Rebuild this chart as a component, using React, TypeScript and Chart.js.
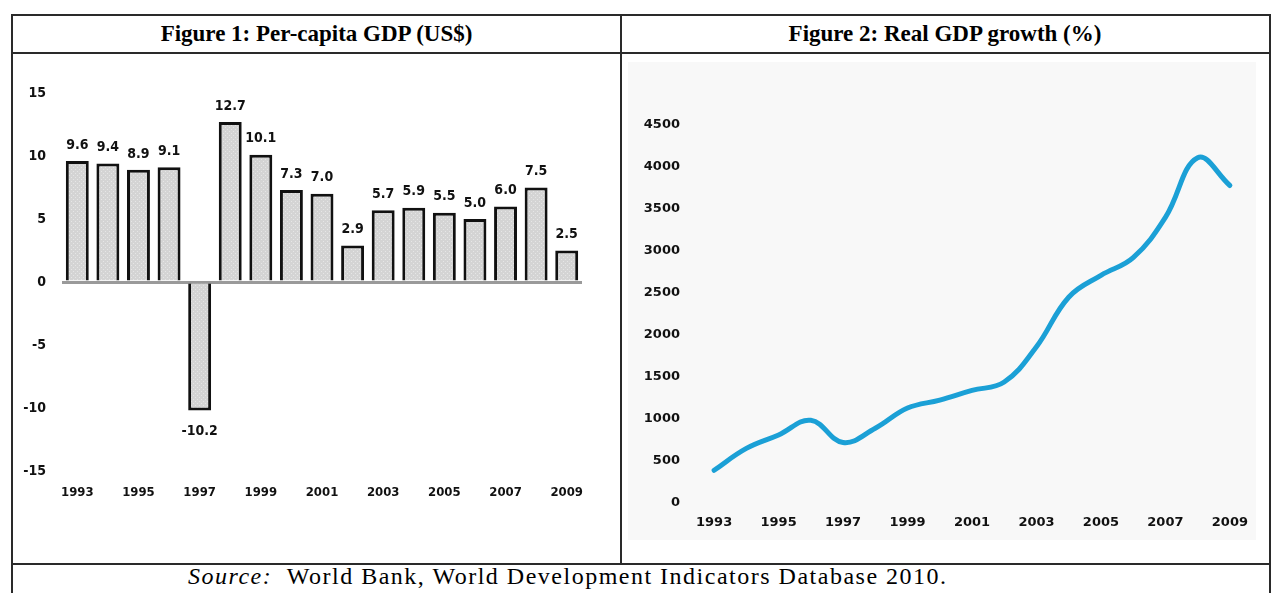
import React, { useEffect, useRef } from "react";
import { Chart, registerables } from "chart.js";

Chart.register(...registerables);

const years = ["1993","1994","1995","1996","1997","1998","1999","2000","2001","2002","2003","2004","2005","2006","2007","2008","2009"];
const perCapitaValues = [9.6, 9.4, 8.9, 9.1, -10.2, 12.7, 10.1, 7.3, 7.0, 2.9, 5.7, 5.9, 5.5, 5.0, 6.0, 7.5, 2.5];
const growthValues = [390, 650, 810, 985, 720, 890, 1130, 1225, 1340, 1440, 1860, 2450, 2710, 2920, 3400, 4110, 3780];
const leftYTicks = [-15, -10, -5, 0, 5, 10, 15];
const rightYTicks = [0, 500, 1000, 1500, 2000, 2500, 3000, 3500, 4000, 4500];

const title1 = "Figure 1: Per-capita GDP (US$)";
const title2 = "Figure 2: Real GDP growth (%)";

const tickFont = { family: "'DejaVu Sans Condensed', 'DejaVu Sans', sans-serif", weight: "bold" as const, size: 13 };

function makePattern(): CanvasPattern | string {
  const c = document.createElement("canvas");
  c.width = 4;
  c.height = 4;
  const g = c.getContext("2d");
  if (!g) return "#d8d8d8";
  g.fillStyle = "#d4d4d4";
  g.fillRect(0, 0, 4, 4);
  g.fillStyle = "#e6e6e6";
  g.fillRect(0, 0, 1, 1);
  g.fillRect(2, 2, 1, 1);
  const p = g.createPattern(c, "repeat");
  return p || "#d8d8d8";
}

const barLabelPlugin = {
  id: "barLabels",
  afterDatasetsDraw(chart: any) {
    const ctx = chart.ctx;
    const meta = chart.getDatasetMeta(0);
    const data = chart.data.datasets[0].data as number[];
    ctx.save();
    ctx.font = "bold 14px 'DejaVu Sans Condensed', 'DejaVu Sans', sans-serif";
    ctx.fillStyle = "#111";
    ctx.textAlign = "center";
    ctx.textBaseline = "middle";
    meta.data.forEach((el: any, i: number) => {
      const v = data[i];
      const y = v >= 0 ? el.y - 16 : el.y + 21;
      ctx.fillText(v.toFixed(1), el.x, y);
    });
    ctx.restore();
  },
};

function BarChart() {
  const ref = useRef<HTMLCanvasElement>(null);
  useEffect(() => {
    if (!ref.current) return;
    const chart = new Chart(ref.current, {
      type: "bar",
      data: {
        labels: years,
        datasets: [
          {
            data: perCapitaValues,
            backgroundColor: makePattern() as any,
            borderColor: "#111",
            borderWidth: 3,
            barPercentage: 0.75,
            categoryPercentage: 1,
          },
        ],
      },
      options: {
        animation: false,
        responsive: false,
        maintainAspectRatio: false,
        layout: { padding: { left: 4, right: 38, top: 38, bottom: 51 } },
        plugins: { legend: { display: false }, tooltip: { enabled: false } },
        scales: {
          x: {
            grid: { display: false, drawTicks: false },
            border: { display: false },
            afterFit: (s: any) => { s.height = 40; },
            ticks: {
              autoSkip: false,
              maxRotation: 0,
              padding: 14,
              color: "#111",
              font: tickFont,
              callback: (_v: any, i: number) => (i % 2 === 0 ? years[i] : ""),
            },
          },
          y: {
            min: leftYTicks[0],
            max: leftYTicks[leftYTicks.length - 1],
            afterFit: (s: any) => { s.width = 45; },
            afterBuildTicks: (s: any) => { s.ticks = leftYTicks.map((v) => ({ value: v })); },
            border: { display: false },
            grid: {
              drawTicks: false,
              color: (c: any) => (c.tick && c.tick.value === 0 ? "#9a9a9a" : "rgba(0,0,0,0)"),
              lineWidth: 3,
            },
            ticks: { padding: 16, color: "#111", font: { ...tickFont, size: 14 }, callback: (v: any) => String(v) },
          },
        },
      },
      plugins: [barLabelPlugin],
    });
    return () => chart.destroy();
  }, []);
  return <canvas ref={ref} width={607} height={507} style={{ display: "block", width: 607, height: 507 }} />;
}

function LineChart() {
  const ref = useRef<HTMLCanvasElement>(null);
  useEffect(() => {
    if (!ref.current) return;
    const f = { family: "'DejaVu Sans', sans-serif", weight: "bold" as const, size: 13 };
    const chart = new Chart(ref.current, {
      type: "line",
      data: {
        labels: years,
        datasets: [
          {
            data: growthValues,
            borderColor: "#1ba0d6",
            borderWidth: 5,
            pointRadius: 0,
            tension: 0.4,
            borderCapStyle: "round",
            borderJoinStyle: "round",
            fill: false,
          },
        ],
      },
      options: {
        animation: false,
        responsive: false,
        maintainAspectRatio: false,
        layout: { padding: { left: 15, right: 22, top: 70, bottom: 19 } },
        plugins: { legend: { display: false }, tooltip: { enabled: false } },
        scales: {
          x: {
            offset: true,
            grid: { display: false, drawTicks: false },
            border: { display: false },
            afterFit: (s: any) => { s.height = 40; },
            ticks: {
              autoSkip: false,
              maxRotation: 0,
              padding: 12,
              color: "#111",
              font: f,
              callback: (_v: any, i: number) => (i % 2 === 0 ? years[i] : ""),
            },
          },
          y: {
            min: rightYTicks[0],
            max: rightYTicks[rightYTicks.length - 1],
            afterFit: (s: any) => { s.width = 60; },
            afterBuildTicks: (s: any) => { s.ticks = rightYTicks.map((v) => ({ value: v })); },
            border: { display: false },
            grid: { display: false, drawTicks: false },
            ticks: { padding: 18, color: "#111", font: f, callback: (v: any) => String(v) },
          },
        },
      },
    });
    return () => chart.destroy();
  }, []);
  return <canvas ref={ref} width={645} height={507} style={{ display: "block", width: 645, height: 507 }} />;
}

const line = "#2a2a2a";

export default function App() {
  const titleStyle: React.CSSProperties = {
    position: "absolute",
    top: 15,
    height: 38,
    lineHeight: "38px",
    textAlign: "center",
    fontFamily: "'Liberation Serif', 'Times New Roman', serif",
    fontWeight: "bold",
    fontSize: 23,
    color: "#000",
  };
  return (
    <div style={{ position: "absolute", left: 0, top: 0, width: 1277, height: 593, overflow: "hidden", background: "#fff" }}>
      <div style={{ position: "absolute", left: 11, top: 14, width: 1256, height: 620, border: `2px solid ${line}` }} />
      <div style={{ position: "absolute", left: 11, top: 52, width: 1258, height: 2, background: line }} />
      <div style={{ position: "absolute", left: 11, top: 563, width: 1258, height: 2, background: line }} />
      <div style={{ position: "absolute", left: 620, top: 14, width: 2, height: 550, background: line }} />
      <div style={{ ...titleStyle, left: 13, width: 607 }}>{title1}</div>
      <div style={{ ...titleStyle, left: 622, width: 646 }}>{title2}</div>
      <div style={{ position: "absolute", left: 628, top: 62, width: 628, height: 478, background: "#f8f8f8" }} />
      <div style={{ position: "absolute", left: 13, top: 55 }}>
        <BarChart />
      </div>
      <div style={{ position: "absolute", left: 623, top: 55 }}>
        <LineChart />
      </div>
      <div
        style={{
          position: "absolute",
          left: 188,
          top: 563,
          fontFamily: "'Liberation Serif', 'Times New Roman', serif",
          fontSize: 24,
          letterSpacing: 1.5,
          lineHeight: "26px",
          color: "#000",
          whiteSpace: "nowrap",
        }}
      >
        <i>Source:</i>&nbsp; World Bank, World Development Indicators Database 2010.
      </div>
    </div>
  );
}
